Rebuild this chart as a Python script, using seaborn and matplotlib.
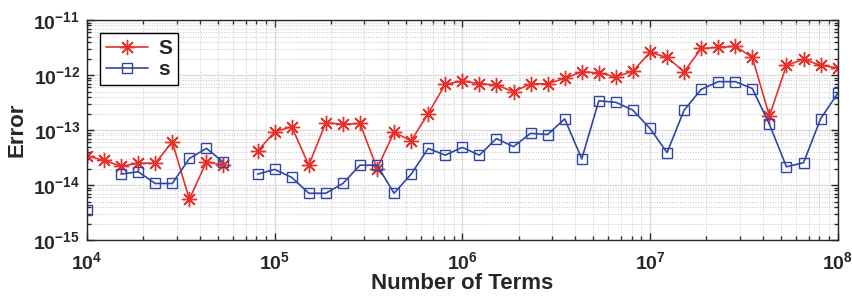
import numpy as np
import pandas as pd
import seaborn as sns
import matplotlib.pyplot as plt
from matplotlib.lines import Line2D
from matplotlib.ticker import LogLocator, NullFormatter

# number of terms: 11 points per decade, 1e4 .. 1e8
n_terms = np.logspace(4, 8, 45)

err_S = [3.4e-14, 2.8e-14, 2.2e-14, 2.5e-14, 2.5e-14, 6.1e-14, 5.5e-15, 2.65e-14, 2.3e-14, np.nan,
         4.15e-14, 9.3e-14, 1.15e-13, 2.3e-14, 1.36e-13, 1.28e-13, 1.32e-13, 2.0e-14, 9.1e-14, 6.4e-14,
         2.0e-13, 6.8e-13, 7.8e-13, 7.0e-13, 6.6e-13, 5.0e-13, 6.9e-13, 7.0e-13, 8.7e-13, 1.15e-12,
         1.1e-12, 9.3e-13, 1.18e-12, 2.6e-12, 2.1e-12, 1.15e-12, 3.05e-12, 3.2e-12, 3.35e-12, 2.1e-12,
         1.8e-13, 1.5e-12, 1.95e-12, 1.5e-12, 1.36e-12]

err_s = [3.5e-15, np.nan, 1.58e-14, 1.75e-14, 1.07e-14, 1.07e-14, 3.05e-14, 4.65e-14, 2.6e-14, np.nan,
         1.58e-14, 1.93e-14, 1.38e-14, 7.1e-15, 7.1e-15, 1.07e-14, 2.3e-14, 2.3e-14, 7.1e-15, 1.58e-14,
         4.65e-14, 3.5e-14, 4.85e-14, 3.5e-14, 7.0e-14, 5.0e-14, 8.7e-14, 8.3e-14, 1.6e-13, 3.0e-14,
         3.4e-13, 3.2e-13, 2.3e-13, 1.07e-13, 3.9e-14, 2.3e-13, 5.5e-13, 7.6e-13, 7.6e-13, 5.7e-13,
         1.28e-13, 2.15e-14, 2.55e-14, 1.6e-13, 4.65e-13]

labels = ['S', 's']
colors = ['#e8302a', '#2e46a6']

sns.set_style('ticks')
plt.rcParams['font.family'] = ['Liberation Sans', 'DejaVu Sans']
plt.rcParams['font.weight'] = 'bold'


def segments(x, y):
    # split the series at NaN so the line breaks there
    df = pd.DataFrame({'x': x, 'y': y})
    df['seg'] = df['y'].isna().cumsum()
    return df.dropna()


fig = plt.figure(figsize=(8.53, 2.96), dpi=100)
ax = fig.add_axes([0.102, 0.189, 0.880, 0.743])

styles = [dict(marker=(8, 2, 0), markersize=11, markeredgewidth=1.0),
          dict(marker='s', markersize=7, markerfacecolor='none', markeredgewidth=1.0)]

for vals, col, st in zip([err_S, err_s], colors, styles):
    d = segments(n_terms, vals)
    sns.lineplot(data=d, x='x', y='y', units='seg', estimator=None, sort=False,
                 color=col, linewidth=1.2, markeredgecolor=col, ax=ax, **st)

ax.set_xscale('log')
ax.set_yscale('log')
ax.set_xlim(1e4, 1e8)
ax.set_ylim(1e-15, 1e-11)

ax.xaxis.set_minor_locator(LogLocator(base=10, subs=np.arange(2, 10), numticks=20))
ax.yaxis.set_minor_locator(LogLocator(base=10, subs=np.arange(2, 10), numticks=20))
ax.xaxis.set_minor_formatter(NullFormatter())
ax.yaxis.set_minor_formatter(NullFormatter())

ax.grid(True, which='major', color='#dcdcdc', linewidth=1.0, linestyle='-')
ax.grid(True, which='minor', color='#c8c8c8', linewidth=0.7, linestyle=':')
ax.tick_params(which='both', direction='in', top=True, right=True, labelsize=14, width=1.0)
ax.tick_params(which='major', length=5)
ax.tick_params(which='minor', length=3)
ax.tick_params(axis='x', which='major', pad=8)
ax.tick_params(axis='y', which='major', pad=5)
for sp in ax.spines.values():
    sp.set_linewidth(1.0)

ax.set_xlabel('Number of Terms', fontsize=16, fontweight='bold', labelpad=0)
ax.set_ylabel('Error', fontsize=16, fontweight='bold', labelpad=4)

handles = [Line2D([], [], color=colors[0], linewidth=1.2, markeredgecolor=colors[0], **styles[0]),
           Line2D([], [], color=colors[1], linewidth=1.2, markeredgecolor=colors[1], **styles[1])]
leg = ax.legend(handles, labels, loc='upper left', bbox_to_anchor=(0.017, 0.943),
                fancybox=False, edgecolor='black', framealpha=1,
                handlelength=2.0, borderpad=0.3, labelspacing=0.1, handletextpad=0.5,
                borderaxespad=0, prop={'weight': 'bold', 'size': 15})
leg.get_frame().set_linewidth(1.0)

fig.savefig('out.png', dpi=100)
